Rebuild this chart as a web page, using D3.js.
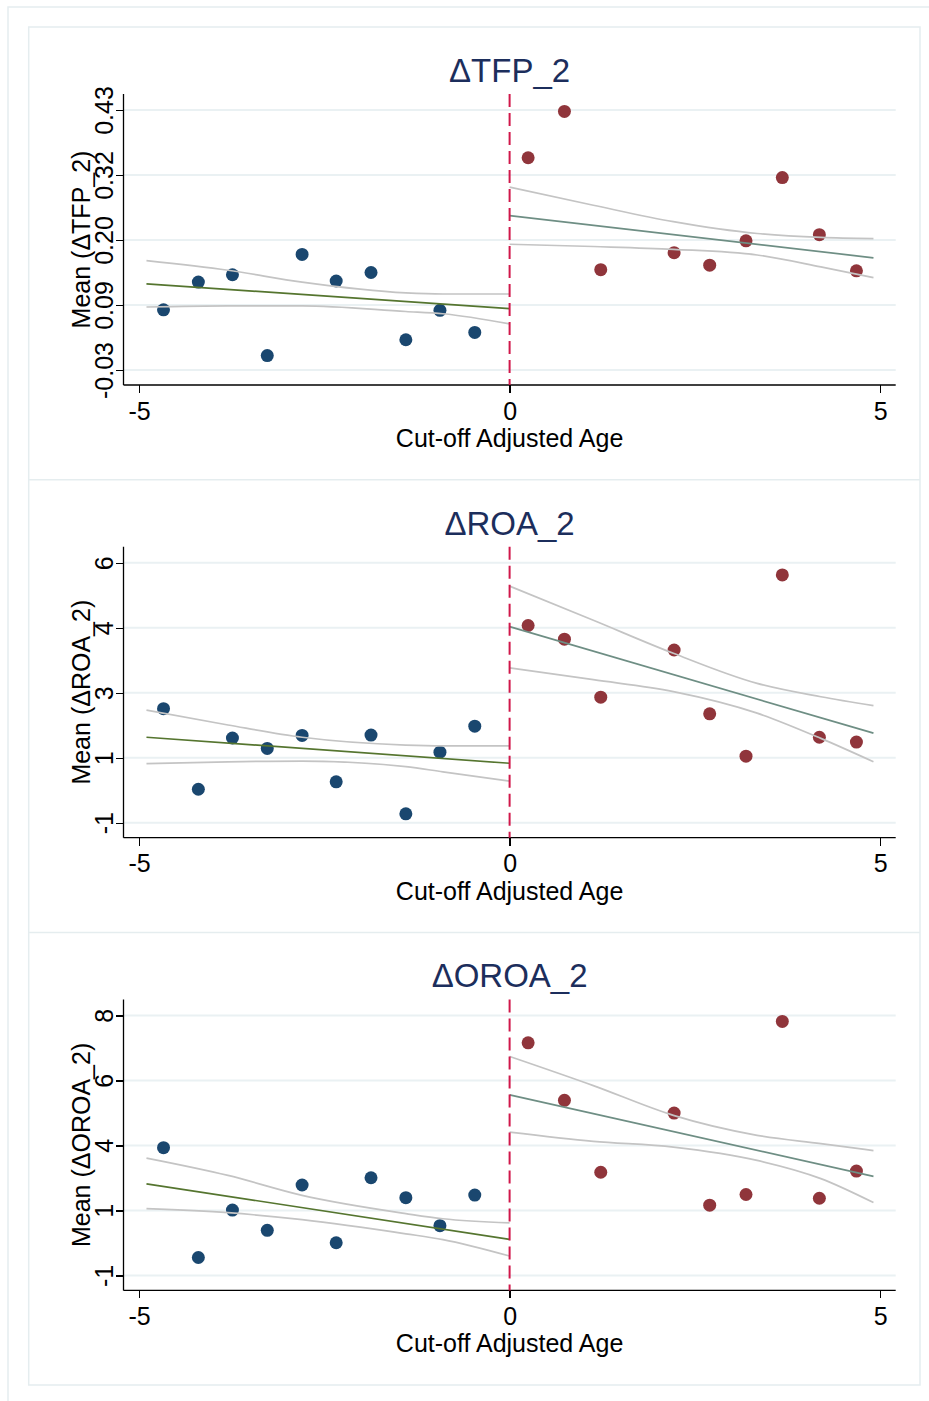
<!DOCTYPE html>
<meta charset="utf-8">
<style>
  body { margin: 0; background: #fff; }
  svg { display: block; font-family: "Liberation Sans", Arial, sans-serif; }
  .axis line { stroke: #000; stroke-width: 1.3; shape-rendering: crispEdges; }
  .axis path { display: none; }
  .axis text { font-size: 25px; fill: #000; font-family: "Liberation Sans", Arial, sans-serif; }
</style>
<body>
<script src="https://cdn.jsdelivr.net/npm/d3@7"></script>
<script>

// bin centres (cut-off adjusted age)
var xLeft = [-4.67, -4.20, -3.74, -3.27, -2.80, -2.34, -1.87, -1.40, -0.94, -0.47];
var xRight = [0.25, 0.74, 1.23, 2.22, 2.70, 3.19, 3.68, 4.18, 4.68];
var xTicks = [-5, 0, 5];
var xLabels = ["-5", "0", "5"];

// where the CI bands were read
var ciXLeft = [-4.9, -3.8, -2.8, -1.4, -0.9, 0];
var ciXRight = [0, 1.13, 2.21, 3.34, 4.2, 4.91];
var fitXLeft = [-4.9, 0];
var fitXRight = [0, 4.91];

// dTFP_2
var tfpLeft = [0.079, 0.128, 0.141, -0.002, 0.177, 0.130, 0.145, 0.026, 0.078, 0.039];
var tfpRight = [0.348, 0.430, 0.150, 0.180, 0.158, 0.201, 0.313, 0.212, 0.148];
var tfpFitLeft = [0.125, 0.081];
var tfpFitRight = [0.2455, 0.171];
var tfpHiLeft = [0.166, 0.149, 0.128, 0.109, 0.107, 0.107];
var tfpLoLeft = [0.084, 0.086, 0.086, 0.076, 0.072, 0.054];
var tfpHiRight = [0.296, 0.264, 0.235, 0.214, 0.207, 0.205];
var tfpLoRight = [0.195, 0.191, 0.186, 0.176, 0.155, 0.136];
var tfpTicks = [-0.0275, 0.0875, 0.2025, 0.3175, 0.4325];
var tfpLabels = ["-0.03", "0.09", "0.20", "0.32", "0.43"];

// dROA_2
var roaLeft = [2.12, -0.05, 1.33, 1.05, 1.40, 0.15, 1.41, -0.71, 0.95, 1.65];
var roaRight = [4.36, 3.99, 2.43, 3.70, 1.98, 0.84, 5.72, 1.35, 1.22];
var roaFitLeft = [1.35, 0.65];
var roaFitRight = [4.33, 1.46];
var roaHiLeft = [2.08, 1.68, 1.35, 1.14, 1.12, 1.12];
var roaLoLeft = [0.64, 0.69, 0.71, 0.56, 0.42, 0.17];
var roaHiRight = [5.42, 4.50, 3.61, 2.80, 2.44, 2.20];
var roaLoRight = [3.22, 2.90, 2.58, 2.00, 1.32, 0.69];
var roaTicks = [-0.95, 0.8, 2.55, 4.3, 6.05];
var roaLabels = ["-1", "1", "3", "4", "6"];

// dOROA_2
var oroaLeft = [3.52, -0.28, 1.36, 0.66, 2.23, 0.23, 2.48, 1.79, 0.82, 1.88];
var oroaRight = [7.15, 5.16, 2.67, 4.72, 1.53, 1.90, 7.89, 1.77, 2.71];
var oroaFitLeft = [2.27, 0.35];
var oroaFitRight = [5.35, 2.53];
var oroaHiLeft = [3.16, 2.56, 1.87, 1.24, 1.06, 0.92];
var oroaLoLeft = [1.41, 1.27, 1.03, 0.54, 0.34, -0.23];
var oroaHiRight = [6.68, 5.67, 4.64, 3.95, 3.66, 3.42];
var oroaLoRight = [4.06, 3.74, 3.54, 3.08, 2.45, 1.62];
var oroaTicks = [-0.9, 1.35, 3.6, 5.85, 8.1];
var oroaLabels = ["-1", "1", "4", "6", "8"];

var titles = ["\u0394TFP_2", "\u0394ROA_2", "\u0394OROA_2"];

var panels = [
  { left: tfpLeft, right: tfpRight, fitL: tfpFitLeft, fitR: tfpFitRight,
    hiL: tfpHiLeft, loL: tfpLoLeft, hiR: tfpHiRight, loR: tfpLoRight,
    ticks: tfpTicks, labels: tfpLabels },
  { left: roaLeft, right: roaRight, fitL: roaFitLeft, fitR: roaFitRight,
    hiL: roaHiLeft, loL: roaLoLeft, hiR: roaHiRight, loR: roaLoRight,
    ticks: roaTicks, labels: roaLabels },
  { left: oroaLeft, right: oroaRight, fitL: oroaFitLeft, fitR: oroaFitRight,
    hiL: oroaHiLeft, loL: oroaLoLeft, hiR: oroaHiRight, loR: oroaLoRight,
    ticks: oroaTicks, labels: oroaLabels }
];

var width = 929, height = 1401;
var panelH = 452.7;
var plotLeft = 123.5, plotRight = 895.7, plotTop = 94, plotBottom = 385;

var navy = "#1a476f", maroon = "#90353b", green = "#55752f", teal = "#6e8e84",
    ciGrey = "#c4c4c4", gridCol = "#eaf1f3", frameCol = "#e5edef", cutCol = "#d0174a";

var svg = d3.select("body").append("svg")
    .attr("width", width)
    .attr("height", height);

// outer and inner frames
svg.append("rect").attr("x", 8).attr("y", 7).attr("width", 940).attr("height", 1420)
    .attr("fill", "none").attr("stroke", frameCol).attr("stroke-width", 1.5);
svg.append("rect").attr("x", 28.7).attr("y", 27).attr("width", 891.3).attr("height", 1358)
    .attr("fill", "none").attr("stroke", frameCol).attr("stroke-width", 1.5);
[1, 2].forEach(function (i) {
  svg.append("line")
      .attr("x1", 28.7).attr("x2", 920)
      .attr("y1", 27 + i * panelH).attr("y2", 27 + i * panelH)
      .attr("stroke", frameCol).attr("stroke-width", 1.5);
});

var x = d3.scaleLinear().domain([-5.21, 5.21]).range([plotLeft, plotRight]);

panels.forEach(function (p, i) {
  var oy = i * panelH;
  var y = d3.scaleLinear()
      .domain([p.ticks[0], p.ticks[p.ticks.length - 1]])
      .range([370 + oy, 110 + oy]);

  var g = svg.append("g");

  // gridlines
  g.selectAll(".grid")
      .data(p.ticks)
      .enter().append("line")
      .attr("x1", plotLeft).attr("x2", plotRight)
      .attr("y1", function (d) { return y(d); })
      .attr("y2", function (d) { return y(d); })
      .attr("stroke", gridCol).attr("stroke-width", 2);

  // y axis
  var ya = g.append("g")
      .attr("class", "axis")
      .attr("transform", "translate(" + plotLeft + ",0)")
      .call(d3.axisLeft(y).tickValues(p.ticks).tickSize(8).tickSizeOuter(0)
        .tickFormat(function (d, k) { return p.labels[k]; }));
  ya.selectAll("text")
      .attr("x", null).attr("dy", null)
      .attr("text-anchor", "middle")
      .attr("transform", "translate(-10.5,0) rotate(-90)");
  g.append("line")
      .attr("x1", plotLeft).attr("x2", plotLeft)
      .attr("y1", plotTop + oy).attr("y2", plotBottom + oy)
      .attr("stroke", "#000").attr("stroke-width", 1.3);

  // x axis
  var xa = g.append("g")
      .attr("class", "axis")
      .attr("transform", "translate(0," + (plotBottom + oy) + ")")
      .call(d3.axisBottom(x).tickValues(xTicks).tickSize(8).tickSizeOuter(0)
        .tickFormat(function (d, k) { return xLabels[k]; }));
  xa.selectAll("text").attr("y", 34.5).attr("dy", null);
  g.append("line")
      .attr("x1", plotLeft).attr("x2", plotRight)
      .attr("y1", plotBottom + oy).attr("y2", plotBottom + oy)
      .attr("stroke", "#000").attr("stroke-width", 1.3);

  // points
  g.selectAll(".ptL")
      .data(p.left)
      .enter().append("circle")
      .attr("r", 6.5)
      .attr("cx", function (d, k) { return x(xLeft[k]); })
      .attr("cy", function (d) { return y(d); })
      .attr("fill", navy);
  g.selectAll(".ptR")
      .data(p.right)
      .enter().append("circle")
      .attr("r", 6.5)
      .attr("cx", function (d, k) { return x(xRight[k]); })
      .attr("cy", function (d) { return y(d); })
      .attr("fill", maroon);

  // CI bands and fits
  var ci = d3.line()
      .x(function (d) { return x(d[0]); })
      .y(function (d) { return y(d[1]); })
      .curve(d3.curveMonotoneX);
  var straight = d3.line()
      .x(function (d) { return x(d[0]); })
      .y(function (d) { return y(d[1]); });

  [[ciXLeft, p.hiL], [ciXLeft, p.loL], [ciXRight, p.hiR], [ciXRight, p.loR]].forEach(function (s) {
    g.append("path")
        .datum(d3.zip(s[0], s[1]))
        .attr("d", ci)
        .attr("fill", "none").attr("stroke", ciGrey).attr("stroke-width", 1.7);
  });
  g.append("path")
      .datum(d3.zip(fitXLeft, p.fitL))
      .attr("d", straight)
      .attr("fill", "none").attr("stroke", green).attr("stroke-width", 1.7);
  g.append("path")
      .datum(d3.zip(fitXRight, p.fitR))
      .attr("d", straight)
      .attr("fill", "none").attr("stroke", teal).attr("stroke-width", 1.7);

  // cut-off
  g.append("line")
      .attr("x1", x(0)).attr("x2", x(0))
      .attr("y1", plotTop + oy).attr("y2", plotBottom + oy)
      .attr("stroke", cutCol).attr("stroke-width", 2)
      .attr("stroke-dasharray", "13,6");

  // titles
  var cx = (plotLeft + plotRight) / 2;
  g.append("text")
      .attr("x", cx).attr("y", 82 + oy)
      .attr("text-anchor", "middle")
      .attr("font-size", 33)
      .attr("fill", "#1c2e5c")
      .text(titles[i]);
  g.append("text")
      .attr("x", cx).attr("y", 447 + oy)
      .attr("text-anchor", "middle")
      .attr("font-size", 25)
      .text("Cut-off Adjusted Age");
  g.append("text")
      .attr("transform", "translate(90," + ((plotTop + plotBottom) / 2 + oy) + ") rotate(-90)")
      .attr("text-anchor", "middle")
      .attr("font-size", 25)
      .text("Mean (" + titles[i] + ")");
});

</script>
</body>
